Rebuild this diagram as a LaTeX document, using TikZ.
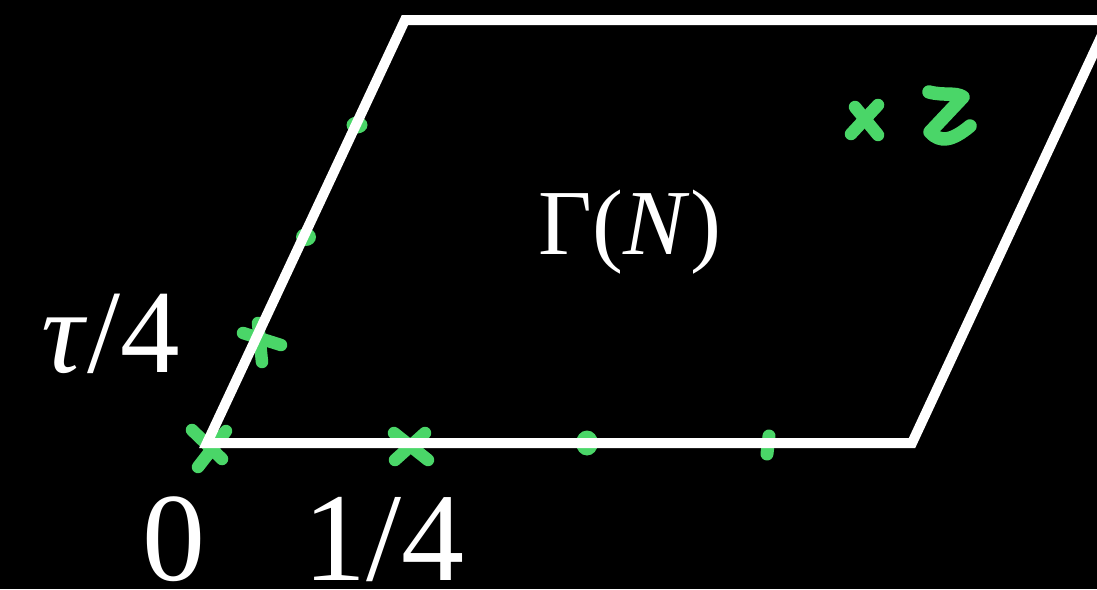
\documentclass[tikz,border=0pt]{standalone}
\usepackage{fontspec}
\setmainfont{Liberation Serif}
\definecolor{mkgreen}{RGB}{74,214,104}
\begin{document}
\begin{tikzpicture}[x=1pt,y=-1pt,
  edge/.style={draw=white,line width=10pt,line join=miter},
  gstroke/.style={draw=mkgreen,line width=12.5pt,line cap=round,line join=round},
  gdot/.style={fill=mkgreen},
  lbl/.style={text=white,inner sep=0pt,anchor=base}]
\fill[black] (0,0) rectangle (1097,589);
\useasboundingbox (0,0) rectangle (1097,589);
% green marks (drawn first, white lines on top)
\draw[gstroke] (192,430) -- (222,459);
\draw[gstroke] (226,431) -- (198,467);
\draw[gstroke] (243,333) -- (281,345);
\draw[gstroke] (258,323) -- (262,362);
\fill[gdot] (306,237) ellipse (10 and 9);
\fill[gdot] (357,125) ellipse (10.5 and 8.5);
\draw[gstroke] (394,433) -- (428,460);
\draw[gstroke] (425,433) -- (395,460);
\fill[gdot] (587,443) ellipse (11 and 12.5);
\draw[gstroke,line width=13pt] (769,436) -- (767,454);
\draw[gstroke] (855,107) -- (878,135);
\draw[gstroke] (878,105) -- (851,134);
\draw[gstroke,line width=13.5pt] (929,92) .. controls (945,96) and (955,92) .. (963,97)
  -- (930,132) .. controls (940,143) and (952,141) .. (970,126);
% fundamental domain
\coordinate (A) at (207,443);
\coordinate (B) at (912,443);
\coordinate (C) at (1109,20);
\coordinate (D) at (405,20);
\draw[edge] (A) -- (B) -- (C) -- (D) -- cycle;
% labels
\node[lbl,font=\fontsize{93}{96}\selectfont] (gamma) at (630,254) {Γ(\textit{N})};
\node[lbl,font=\fontsize{119}{122}\selectfont] (tau4) at (111,372) {\textit{τ}/4};
\node[lbl,font=\fontsize{126}{130}\selectfont] (zero) at (174,580) {0};
\node[lbl,font=\fontsize{126}{130}\selectfont] (quarter) at (384,580) {1/4};
\end{tikzpicture}
\end{document}
